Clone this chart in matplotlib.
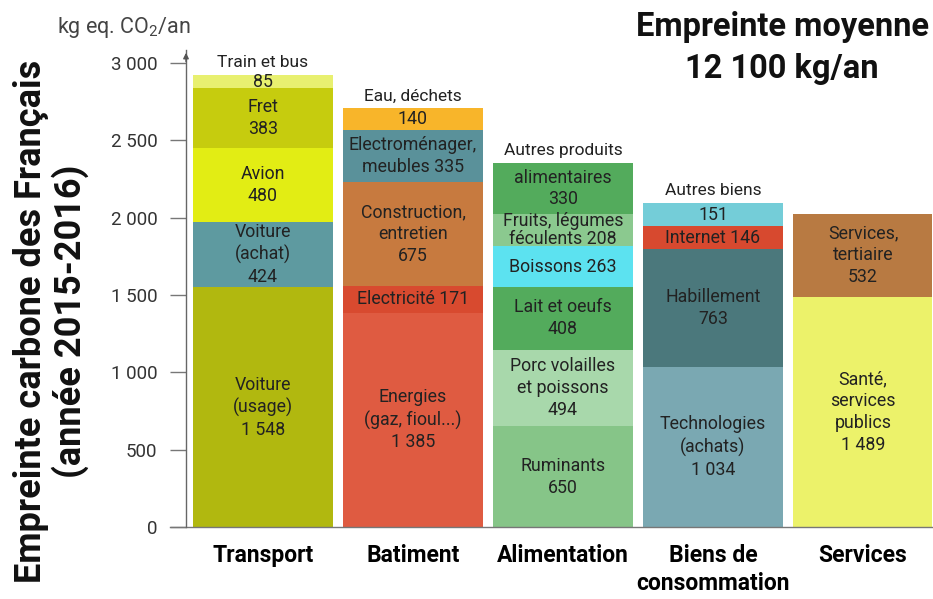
import matplotlib
matplotlib.use("Agg")
import matplotlib.pyplot as plt
from matplotlib.ticker import FuncFormatter

plt.rcParams['font.family'] = ['Roboto', 'DejaVu Sans']
plt.rcParams['mathtext.fontset'] = 'custom'
plt.rcParams['mathtext.rm'] = 'Roboto'
plt.rcParams['mathtext.it'] = 'Roboto:italic'
plt.rcParams['mathtext.bf'] = 'Roboto:bold'

# Data (kg eq. CO2 / an), stacked bottom -> top
categories = ['Transport', 'Batiment', 'Alimentation', 'Biens de\nconsommation', 'Services']

transport_values = [1548, 424, 480, 383, 85]
transport_labels = ['Voiture\n(usage)\n{}', 'Voiture\n(achat)\n{}', 'Avion\n{}', 'Fret\n{}', '{}']
transport_colors = ['#b1b80f', '#5e9aa0', '#e2ed14', '#c6cc0e', '#e8f070']

batiment_values = [1385, 171, 675, 335, 140]
batiment_labels = ['Energies\n(gaz, fioul...)\n{}', 'Electricité {}', 'Construction,\nentretien\n{}',
                   'Electroménager,\nmeubles {}', '{}']
batiment_colors = ['#df5b41', '#d84a2f', '#c77a3f', '#5a919a', '#f8b52a']

alimentation_values = [650, 494, 408, 263, 208, 330]
alimentation_labels = ['Ruminants\n{}', 'Porc volailles\net poissons\n{}', 'Lait et oeufs\n{}',
                       'Boissons {}', 'Fruits, légumes\nféculents {}', 'alimentaires\n{}']
alimentation_colors = ['#86c588', '#a8d8ab', '#53ab5c', '#5ce2f0', '#8bc98f', '#53ab5c']

biens_values = [1034, 763, 146, 151]
biens_labels = ['Technologies\n(achats)\n{}', 'Habillement\n{}', 'Internet {}', '{}']
biens_colors = ['#7aa8b2', '#4b787c', '#d7492f', '#74cdd8']

services_values = [1489, 532]
services_labels = ['Santé,\nservices\npublics\n{}', 'Services,\ntertiaire\n{}']
services_colors = ['#ecf26a', '#b87a42']

top_labels = ['Train et bus', 'Eau, déchets', 'Autres produits', 'Autres biens', '']

all_values = [transport_values, batiment_values, alimentation_values, biens_values, services_values]
all_labels = [transport_labels, batiment_labels, alimentation_labels, biens_labels, services_labels]
all_colors = [transport_colors, batiment_colors, alimentation_colors, biens_colors, services_colors]


def fmt(v):
    return f"{int(v):,}".replace(',', ' ')


fig = plt.figure(figsize=(9.33, 5.99), dpi=100)
ax = fig.add_axes([186 / 933, 72 / 599, 746 / 933, 477 / 599])

width = 0.933
for i, (vals, labs, cols) in enumerate(zip(all_values, all_labels, all_colors)):
    bottom = 0
    for v, lab, c in zip(vals, labs, cols):
        ax.bar(i, v, width=width, bottom=bottom, color=c, linewidth=0)
        ls = 1.05 if v < 250 else 1.28
        ax.text(i, bottom + v / 2, lab.format(fmt(v)), ha='center', va='center',
                fontsize=12.8, color='#222222', linespacing=ls)
        bottom += v
    if top_labels[i]:
        ax.annotate(top_labels[i], xy=(i, bottom), xytext=(0, 9), textcoords='offset points',
                    ha='center', va='center', fontsize=12.5, color='#222222')

ax.set_xlim(-0.513, 4.46)
ax.set_ylim(0, 3083)
ax.set_yticks([0, 500, 1000, 1500, 2000, 2500, 3000])
ax.yaxis.set_major_formatter(FuncFormatter(lambda v, p: fmt(v)))
ax.set_xticks(range(len(categories)))
ax.set_xticklabels(categories, fontsize=16.5, fontweight='bold', linespacing=1.3)

for s in ['top', 'right', 'bottom']:
    ax.spines[s].set_visible(False)
ax.spines['left'].set_color('#666666')
ax.spines['left'].set_linewidth(1)
ax.tick_params(axis='y', length=11.5, width=1, color='#777777', pad=9,
               labelsize=13.5, labelcolor='#333333')
ax.tick_params(axis='x', length=0, pad=12)

# baseline extending left of the axis
ax.plot([-0.0214, 1], [0, 0], transform=ax.transAxes, color='#777777', lw=1, clip_on=False)
# arrow head at top of y axis
ax.annotate('', xy=(0, 1.0), xytext=(0, 0.97), xycoords='axes fraction',
            arrowprops=dict(arrowstyle='-|>', color='#555555', lw=1, mutation_scale=8))

fig.text(57 / 933, 1 - 27 / 599, 'kg eq. CO$_2$/an', ha='left', va='center',
         fontsize=15.5, color='#444444')
fig.text(51 / 933, 1 - 321 / 599, 'Empreinte carbone des Français\n(année 2015-2016)',
         rotation=90, ha='center', va='center', fontsize=26, fontweight='bold',
         linespacing=1.1, color='#111111')
fig.text(782 / 933, 1 - 48 / 599, 'Empreinte moyenne\n12 100 kg/an', ha='center', va='center',
         fontsize=23.5, fontweight='bold', linespacing=1.4, color='#111111')

fig.savefig('out.png', dpi=100)
